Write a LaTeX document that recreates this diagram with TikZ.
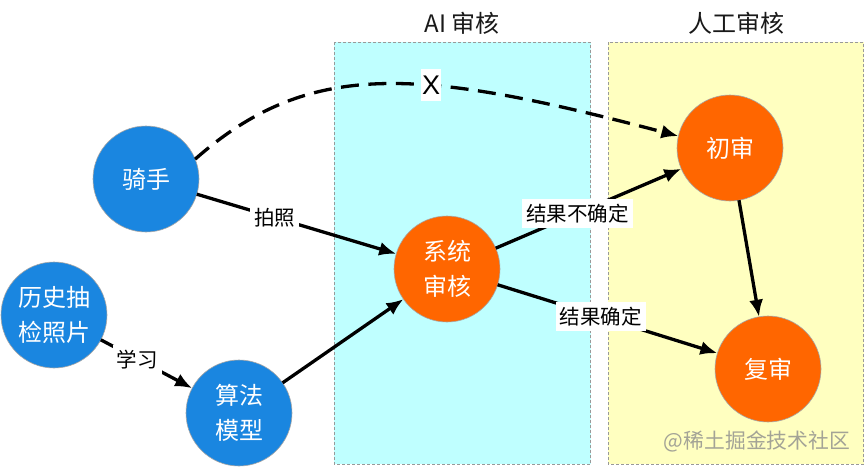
\documentclass[tikz,border=0pt]{standalone}
\usepackage{fontspec}
\setmainfont{Liberation Sans}
\newfontfamily\cjk{Noto Sans CJK SC}
\usetikzlibrary{arrows.meta}
\definecolor{nodeblue}{HTML}{1A86E0}
\definecolor{nodeorange}{HTML}{FF6600}
\definecolor{zonecyan}{HTML}{BFFFFF}
\definecolor{zoneyellow}{HTML}{FFFFC0}
\tikzset{
  zone/.style={draw=black!40,line width=0.8pt,dash pattern=on 3pt off 2pt},
  zonetitle/.style={font=\cjk\fontsize{24}{28}\selectfont,text=black!90,inner sep=0pt},
  disc/.style={circle,minimum size=106pt,inner sep=0pt,outer sep=0pt,draw=black!35,line width=0.6pt,text=white,align=center,font=\cjk\fontsize{24}{35}\selectfont},
  bluedisc/.style={disc,fill=nodeblue},
  orangedisc/.style={disc,fill=nodeorange},
  link/.style={line width=3.3pt,-{Latex[length=17pt,width=14pt]}},
  guess/.style={link,dash pattern=on 18pt off 9.5pt},
  edgetag/.style={fill=white,text=black,inner xsep=4pt,inner ysep=5pt,font=\cjk\fontsize{20.5}{25}\selectfont}
}
\begin{document}
\begin{tikzpicture}[x=1pt,y=-1pt]
\useasboundingbox (0,0) rectangle (866,466);
\fill[white] (0,0) rectangle (866,466);
\filldraw[zone,fill=zonecyan] (334,42) rectangle (590.5,464);
\filldraw[zone,fill=zoneyellow] (608,42) rectangle (863.5,464);
\node[zonetitle] (aititle) at (462,23) {AI 审核};
\node[zonetitle] (humantitle) at (736,23) {人工审核};
\node[bluedisc] (rider) at (146,179) {骑手};
\node[bluedisc] (history) at (54,315) {历史抽\\检照片};
\node[bluedisc] (model) at (239,413) {算法\\模型};
\node[orangedisc] (system) at (447,269) {系统\\审核};
\node[orangedisc] (first) at (730,148) {初审};
\node[orangedisc] (second) at (768,369) {复审};
\draw[link] (rider) -- node[edgetag,pos=0.39] (tagphoto) {拍照} (system);
\draw[link] (history) -- node[edgetag,pos=0.40] (taglearn) {学习} (model);
\draw[link] (model) -- (system);
\draw[link] (system) -- node[edgetag,pos=0.44] (tagunsure) {结果不确定} (first);
\draw[link] (system) -- node[edgetag,pos=0.47] (tagsure) {结果确定} (second);
\draw[link] (first) -- (second);
\draw[guess] (rider.22) .. controls (310,58) and (420,68) .. (first.167);
\node[fill=white,inner xsep=1pt,inner ysep=7pt,font=\fontsize{27}{30}\selectfont] (cross) at (431,85) {X};
\node[inner sep=0pt,text=black!45,opacity=0.8,font=\cjk\fontsize{20.8}{24}\selectfont] (mark) at (757,441) {@稀土掘金技术社区};
\end{tikzpicture}
\end{document}
